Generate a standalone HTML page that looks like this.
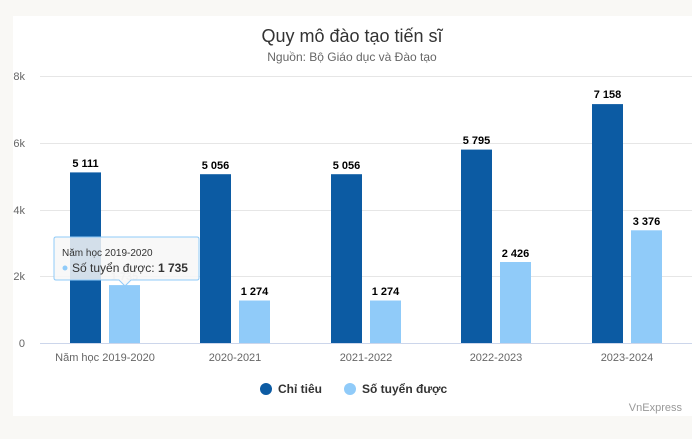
<!DOCTYPE html>
<html><head><meta charset="utf-8"><style>
body{margin:0;background:#f9f8f5;width:692px;height:434px;overflow:hidden;font-family:"Liberation Sans","DejaVu Sans",sans-serif}
</style></head><body>
<svg width="692" height="434" xmlns="http://www.w3.org/2000/svg" font-family="Liberation Sans, DejaVu Sans, sans-serif">
<rect x="13" y="16" width="679" height="400" fill="#fff"/>
<text x="352" y="42" text-anchor="middle" font-size="18" fill="#333">Quy mô đào tạo tiến sĩ</text>
<text x="352" y="61" text-anchor="middle" font-size="12" fill="#666">Nguồn: Bộ Giáo dục và Đào tạo</text>
<g stroke="#e6e6e6" stroke-width="1">
<line x1="40" x2="692" y1="76.5" y2="76.5"/><line x1="40" x2="692" y1="143.5" y2="143.5"/>
<line x1="40" x2="692" y1="210.5" y2="210.5"/><line x1="40" x2="692" y1="276.5" y2="276.5"/>
</g>
<line x1="40" x2="692" y1="343.5" y2="343.5" stroke="#ccd6eb"/>
<g font-size="11" fill="#666" text-anchor="end">
<text x="25" y="80">8k</text><text x="25" y="147">6k</text><text x="25" y="214">4k</text><text x="25" y="280">2k</text><text x="25" y="347">0</text>
</g>
<g fill="#0c5ba3">
<rect x="70" y="172.4" width="31" height="170.6"/>
<rect x="200" y="174.2" width="31" height="168.8"/>
<rect x="331" y="174.2" width="31" height="168.8"/>
<rect x="461" y="149.6" width="31" height="193.4"/>
<rect x="592" y="104.1" width="31" height="238.9"/>
</g>
<g fill="#90cbf9">
<rect x="109" y="285.1" width="31" height="57.9"/>
<rect x="239" y="300.5" width="31" height="42.5"/>
<rect x="370" y="300.5" width="31" height="42.5"/>
<rect x="500" y="262" width="31" height="81"/>
<rect x="631" y="230.3" width="31" height="112.7"/>
</g>
<g font-size="11" font-weight="bold" fill="#000" text-anchor="middle">
<text x="85.5" y="167">5 111</text><text x="215.5" y="169">5 056</text><text x="346.5" y="169">5 056</text><text x="476.5" y="144">5 795</text><text x="607.5" y="98">7 158</text>
<text x="124.5" y="280" fill="#ccc">1 735</text><text x="254.5" y="295">1 274</text><text x="385.5" y="295">1 274</text><text x="515.5" y="257">2 426</text><text x="646.5" y="225">3 376</text>
</g>
<g font-size="11" fill="#666" text-anchor="middle">
<text x="105" y="361">Năm học 2019-2020</text><text x="235" y="361">2020-2021</text><text x="366" y="361">2021-2022</text><text x="496" y="361">2022-2023</text><text x="627" y="361">2023-2024</text>
</g>
<circle cx="266" cy="389" r="6" fill="#0c5ba3"/><text x="278" y="393" font-size="12" font-weight="bold" fill="#333">Chỉ tiêu</text>
<circle cx="350" cy="389" r="6" fill="#90cbf9"/><text x="362" y="393" font-size="12" font-weight="bold" fill="#333">Số tuyển được</text>
<text x="682" y="411" text-anchor="end" font-size="11" fill="#999">VnExpress</text>
<g>
<path d="M56,237 H197 Q199,237 199,239 V278 Q199,280 197,280 H131 L125,286 L119,280 H56 Q54,280 54,278 V239 Q54,237 56,237Z" fill="#f7f7f7" fill-opacity="0.85" stroke="#90cbf9"/>
<text x="62" y="256" font-size="10" fill="#333">Năm học 2019-2020</text>
<circle cx="65" cy="268" r="2.5" fill="#90cbf9"/>
<text x="72" y="272" font-size="12" fill="#333">Số tuyển được: <tspan font-weight="bold">1 735</tspan></text>
</g>
</svg>
</body></html>
